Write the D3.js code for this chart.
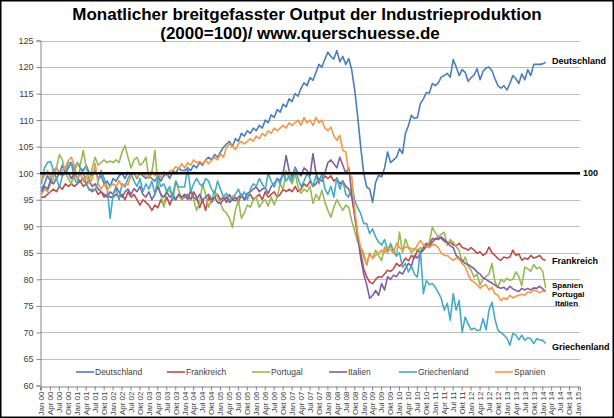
<!DOCTYPE html>
<html><head><meta charset="utf-8">
<script src="https://cdn.jsdelivr.net/npm/d3@7"></script>
<style>body{margin:0;background:#fff}svg{display:block}text{font-family:"Liberation Sans",Arial,sans-serif}</style>
</head><body><div id="c"></div>
<script>
const years = d3.range(2000, 2016);
const monthNames = ["Jan","Feb","Mär","Apr","Mai","Jun","Jul","Aug","Sep","Okt","Nov","Dez"];
const tickMonths = ["Jan","Apr","Jul","Okt"];
const seriesNames = ["Deutschland","Frankreich","Portugal","Italien","Griechenland","Spanien"];
const yTicks = [60,65,70,75,80,85,90,95,100,105,110,115,120,125];

const deutschland = [
97,98,99.5,98.5,100.5,101,100,101.5,100,101,102,100.5,
102,101,100.5,101.5,100,99.5,100.5,99,99.5,98,98.5,97.5,
99,98.5,99.5,100,99,100.2,99.5,100,99,100,99.5,99,
99.5,99,98.5,99.5,98.5,99.5,100,99,100.5,100,101,100.5,
100.5,101,100.5,101.5,101,102,101.5,102.5,103,102.5,103.5,103,
104,104.9,105.5,106,105,106.5,106,107.5,107,108,107.5,108.5,
108,109,108.5,110,109.5,111,110.5,112,111.5,113,112.5,114,
113.5,115,114.5,116,117,116.5,118,117.5,119,120.5,120,121.5,
122.8,122,121.5,123.1,121,122,120.5,121.6,119.4,115.6,110.6,104.9,
100,97.4,97,94.5,98.3,99.6,99.3,101,104,102,102.5,103,
104.6,103.7,107.5,109,110.9,110.3,110.5,113.1,114,115.2,115.1,116.9,
116.5,117,118.1,118.4,118.8,118.1,121.4,120,118.4,119.5,119,117.3,
118,118.5,119.7,117.6,119.2,119.8,120,119.3,117.8,116.5,116,116.5,
115.7,116.9,118.4,117.8,116.9,118.7,117.6,119.5,118.4,120.5,120.5,120.5,
120.6,120.9];
const frankreich = [
95.5,95.5,96,96.5,97,96.5,97.5,97,98,97.5,98,97.5,
98,98.5,97.5,98,97,96.5,97,96,96.5,95.5,96,95.5,
95.5,96,95.5,96,95,96.5,95.5,96,95,94,95,94.5,
94,93,94,93.5,95,94,95.5,94,95.5,95,96,95,
95.5,96,95,96.5,95.5,93.5,95,93,95.5,94.5,95.5,96,
95,95.5,94.5,96,95,95.5,94.5,96,95,95.5,96,95,
95.5,96,95,96.5,95.5,96,96.5,95.5,96,97,96.5,97,
96.5,97.5,96.5,97,98,97.5,98.5,97.5,98,99,98.5,99.5,
99,99.5,98.5,99,98,98.5,97.5,97,95.5,92,88,85,
82,80.5,79.5,79.2,80,80.5,80.4,81,81.7,81.5,82,83,
82.5,83,84,83.5,84.5,84,85.5,85,86,86.8,86.5,87.7,
87.5,88,87.7,87.2,86.8,87,86.5,86.3,86.8,86,85.8,85.5,
86,85.5,84.9,85.2,84.5,84.9,86.1,85,84.5,83.9,83.6,84.2,
84,84.2,85.5,84.5,84.8,83.6,84,83.8,84.5,84,84.2,84.5,
83.8,83.6];
const portugal = [
96,97,96.5,98,99,101,103.5,102.5,100,99,98,100,
102,101.5,104.3,101,98.6,101,103,101.5,102,102.5,102,102.3,
102,102.5,102,104,105.2,103,101,102.5,103,101.5,102,103,
99,100,104.3,98,96,93.6,97,96.5,96.2,98.5,96.8,94.9,
96,95.5,96.5,95,93,94.5,98,96,93.6,95,96.8,95.5,
94.3,93,92.5,91.5,89.8,93,94.9,91.5,92.5,94,93.6,95,
95.5,93.6,94.5,95,93.8,95.5,94,95.5,98,97,100.5,99,
98,100,97.4,96.2,97,96.5,97.5,94.3,96,95,96.8,94.5,
93,91.7,93.6,95,94,93,94,93.5,91,89,87,86,
85,82.6,84.9,83.9,85.5,84.5,83.5,86.1,85,86.8,85.5,84.3,
88.9,85,87.6,86,85,85.8,85.5,86,85.5,86.1,87,89.8,
88.8,88,88.5,88.9,86.4,87.5,87,86.2,85.5,83,84.2,82.5,
81.7,80.4,81,78.9,80,80.5,81,83,79.5,78.5,80,79.5,
80.2,79.8,80,81.4,80.5,78.8,82.3,82,81.5,82.8,82,82.3,
81.5,78.3];
const italien = [
96.5,97.5,97,98.5,98,99,100,99.5,100.5,100,99,100,
99,98.5,99,98,98.6,97.5,98,97,96.5,96,95.5,96.5,
96,97.4,96.5,95.5,96.5,97,96,97.1,96.5,97.5,96,95.5,
96.5,95,96,97.5,96,95.5,96.5,95.5,96,95,96,95.5,
96,95,96.8,95.5,95,96,94.9,95.5,96,95,95.5,94.5,
94.3,95,95.5,94.5,95,94.8,95.5,96,95,96.2,96.5,97,
97.4,96.5,97,97.2,96.2,97.5,98,99,98.6,100,103.3,100.5,
99.2,101.1,100,99.5,101,100.5,99.5,103.7,100,98.6,99.5,100,
102,102.5,101.8,101,103,101.5,100,101,96,92,88,84,
81,79,76.4,77,77.9,77,79.2,78,80.5,80,80.8,80.5,
81.4,81,82,83,82.5,84.5,84,84.9,85.5,86.4,86,87,
87.7,87.5,88,87.5,87,86.3,86,84.5,84,83.6,83,82.8,
82.4,82,81.4,81,80.3,80,79.6,79.3,78.9,78.5,78.3,78.5,
78,78.7,78.2,77.9,77.7,78.3,78,78.3,78,78.4,78.3,78.7,
78.2,77.7];
const griechenland = [
98,101,102,102.2,100.5,99,97.3,99.5,100,102,102,99,
98,101,100,98,96.8,97,96.8,98.5,100.5,99,97.4,91.5,
96,97,95,98,97.4,99,100,98.5,97.5,99,96.5,98,
97,98.5,96,99,97.5,98,96.5,97.5,94.9,98.5,97.4,97.4,
97.4,101.1,96.5,98,99,98,97.5,99,98.5,97,96,98.5,
97,95.5,96.2,94.9,95.5,96,97,95.5,96.5,95,97,98,
97.5,99,98,97,100,98.5,97.4,99,98,100,98.5,99.5,
98.5,101.1,99,97.5,98.5,100,99,97.5,99.5,98,100,97,
96,97.5,95.5,99.2,97,98.6,96,95.5,98,94.9,93.5,92.4,
90.5,90.5,88.6,89.5,88,87,86.5,87.5,85.5,86.5,85,84.5,
85,82.3,83,81.4,82.5,81,80.4,85.5,77.3,79.8,79,79.2,
78.5,77.5,76.4,74.2,75.5,72.3,77.3,74.2,76,70,72.9,71.6,
70.5,70.8,70.4,70.4,72.6,70.5,74.2,75.7,72.5,70.4,70,69.5,
68.9,67.6,69.8,69.5,68.6,69.5,68.5,69,68.8,67.9,68.8,68.6,
68.5,67.9];
const spanien = [
98.5,99.5,100.5,99.2,100,101,100,100.5,101,102.4,103,101.5,
99,100,98.5,99.5,98,99,101.8,98,97,98,96.8,97.5,
98,97.4,98.6,97.5,98,97.8,99.5,100,99.2,99.8,100,99.5,
99.2,100.5,99.5,100,99.2,100.3,99.5,100.5,100.5,101.2,100.8,101.8,
101,102,101.5,102.5,102,102.2,101.8,102.5,101.8,102.4,103,102.5,
103.7,103,104.9,105.6,105,104.5,105.5,106,105.5,106,106.5,106,
107,106.5,107.5,107,108,107.5,108.5,108,108.5,109,108.5,109.5,
109,109.5,110,109,110.5,109.5,110,109,110.5,109.5,110,108.5,
108,108.7,107,106.2,107.1,104.3,104,100,99.3,93,88.6,86,
84.2,83,84.9,84,84.5,85,85.5,85,86.1,85.5,85,86.8,
86,85.5,86.2,86,85.8,85.5,86.5,87.3,86.5,86.2,86,86.5,
86.5,86,84.9,84.5,84.5,84,83.6,84,83.8,83,82.4,81,
79.8,79.5,79,78.3,78.8,79,78,78.5,77.3,77,76,76.5,
76.2,77,76.5,76.8,77,77.2,77,77.6,77.5,78,77.8,77.5,
77.8,77.7];

const allSeries = [deutschland, frankreich, portugal, italien, griechenland, spanien];
const colors = ["#4a7ebb","#be4b48","#98b954","#7d60a0","#46aac5","#f79646"];
// end labels: value level at which each label sits
const endLabels = [
  {name:"Deutschland", v:121.1},
  {name:"Frankreich", v:83.45},
  {name:"Spanien", v:78.95},
  {name:"Portugal", v:77.2},
  {name:"Italien", v:75.45},
  {name:"Griechenland", v:67.25}
];
const stackedLabels = ["Spanien","Portugal","Italien"];

// categories: Jan 2000 .. Jan 2015
const cats = [];
years.forEach(y => monthNames.forEach((m,k) => { if (y < 2015 || k === 0) cats.push({key:y+"-"+k, label:m+" "+String(y).slice(2), quarter: tickMonths.includes(m)}); }));

const W = 614, H = 418;
const L = 40, R = 580, T = 40.5, B = 385.5;
const svg = d3.select("#c").append("svg").attr("width", W).attr("height", H);

const x = d3.scaleBand().domain(cats.map(c => c.key)).range([L, R]).paddingInner(0).paddingOuter(0);
const xc = k => x(k) + x.bandwidth()/2;
const y = d3.scaleLinear().domain([60,125]).range([B, T]);

// gridlines
svg.append("g").selectAll("line").data(yTicks.filter(t => t > 60)).join("line")
  .attr("x1", L).attr("x2", R).attr("y1", d => Math.round(y(d))+0.5).attr("y2", d => Math.round(y(d))+0.5)
  .attr("stroke", "#bebebe").attr("stroke-width", 1);

// y axis
const yAxis = d3.axisLeft(y).tickValues(yTicks).tickSize(4).tickPadding(3);
const gy = svg.append("g").attr("transform", `translate(${L+0.5},0)`).call(yAxis);
gy.select(".domain").attr("stroke", "#868686");
gy.selectAll(".tick line").attr("stroke", "#868686");
gy.selectAll(".tick text").attr("font-size", 9).attr("fill", "#404040");

// x axis
const qcats = cats.filter(c => c.quarter);
const labelOf = {}; cats.forEach(c => labelOf[c.key] = c.label);
const xAxis = d3.axisBottom(x).tickValues(qcats.map(c => c.key)).tickFormat(k => labelOf[k]).tickSize(4).tickPadding(2);
const gx = svg.append("g").attr("transform", `translate(0,${Math.round(B)+0.5})`).call(xAxis);
gx.select(".domain").attr("stroke", "#868686");
gx.selectAll(".tick line").attr("stroke", "#868686");
gx.selectAll(".tick text").attr("font-size", 8).attr("fill", "#404040")
  .attr("transform", "rotate(-90)").attr("text-anchor", "end").attr("dy", "0.35em").attr("y", 0).attr("x", -5);

// series lines
const line = d3.line().x((d,i) => xc(cats[i].key)).y(d => y(d)).curve(d3.curveLinear);
svg.append("g").selectAll("path").data(allSeries).join("path")
  .attr("d", d => line(d)).attr("fill", "none").attr("stroke", (d,i) => colors[i]).attr("stroke-width", 1.6)
  .attr("stroke-linejoin", "round");

// 100 line
svg.append("line").attr("x1", L).attr("x2", R).attr("y1", y(100)).attr("y2", y(100)).attr("stroke", "#000").attr("stroke-width", 2.5);
svg.append("text").attr("x", R + 3).attr("y", y(100)).attr("dy", "0.35em").attr("font-size", 9).attr("font-weight", "bold").text("100");

// end labels
svg.append("g").selectAll("text").data(endLabels).join("text")
  .attr("x", (d) => d.name === "Italien" ? R - 25 : R - 28).attr("y", d => y(d.v)).attr("dy", "0.35em")
  .attr("font-size", d => stackedLabels.includes(d.name) ? 8 : 9)
  .attr("font-weight", "bold").attr("fill", "#000")
  .text(d => d.name);

// legend
const legX = [76, 167, 252, 329, 399, 495];
const lg = svg.append("g").selectAll("g").data(seriesNames).join("g").attr("transform", (d,i) => `translate(${legX[i]},372)`);
lg.append("line").attr("x1", 0).attr("x2", 18).attr("stroke", (d,i) => colors[i]).attr("stroke-width", 1.6);
lg.append("text").attr("x", 19).attr("dy", "0.35em").attr("font-size", 8.5).attr("fill", "#404040").text(d => d);

// title
svg.append("text").attr("x", 307).attr("y", 20).attr("text-anchor", "middle").attr("font-size", 17).attr("font-weight", "bold").text("Monatlicher breitgefasster  Output der Industrieproduktion");
svg.append("text").attr("x", 300).attr("y", 39).attr("text-anchor", "middle").attr("font-size", 17).attr("font-weight", "bold").text("(2000=100)/ www.querschuesse.de");

// border
svg.append("rect").attr("x", 0.75).attr("y", 0.75).attr("width", W-1.5).attr("height", H-1.5).attr("fill", "none").attr("stroke", "#000").attr("stroke-width", 1.5);
</script></body></html>
